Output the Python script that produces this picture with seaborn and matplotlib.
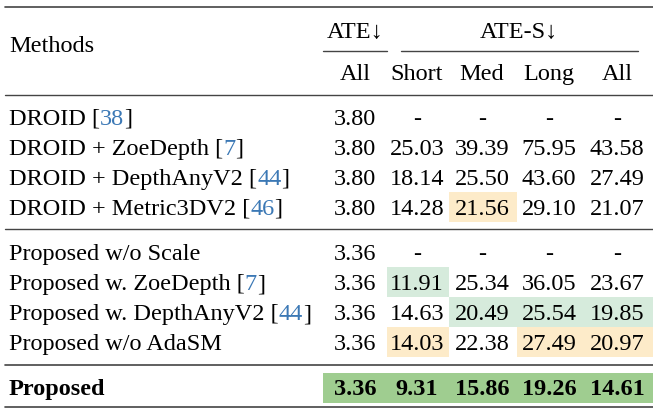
import matplotlib
matplotlib.use('Agg')
import matplotlib.pyplot as plt
import seaborn as sns

sns.set_theme(style="white")
plt.rcParams['font.family'] = ['Liberation Serif', 'DejaVu Serif']
plt.rcParams['text.color'] = 'black'

# table content
methods = [
    ("DROID", "38"), ("DROID + ZoeDepth", "7"), ("DROID + DepthAnyV2", "44"),
    ("DROID + Metric3DV2", "46"),
    ("Proposed w/o Scale", None), ("Proposed w. ZoeDepth", "7"),
    ("Proposed w. DepthAnyV2", "44"), ("Proposed w/o AdaSM", None),
]
values = [
    ["3.80", "-", "-", "-", "-"],
    ["3.80", "25.03", "39.39", "75.95", "43.58"],
    ["3.80", "18.14", "25.50", "43.60", "27.49"],
    ["3.80", "14.28", "21.56", "29.10", "21.07"],
    ["3.36", "-", "-", "-", "-"],
    ["3.36", "11.91", "25.34", "36.05", "23.67"],
    ["3.36", "14.63", "20.49", "25.54", "19.85"],
    ["3.36", "14.03", "22.38", "27.49", "20.97"],
]
best = ["3.36", "9.31", "15.86", "19.26", "14.61"]
subheads = ["All", "Short", "Med", "Long", "All"]
# (row, col, colour) highlighted cells
highlights = [(3, 2, 'orange'), (5, 1, 'green'), (6, 2, 'green'), (6, 3, 'green'),
              (6, 4, 'green'), (7, 1, 'orange'), (7, 3, 'orange'), (7, 4, 'orange')]

col_x = [355, 417, 482, 549, 617]
col_edges = [(323, 387), (387, 449), (449, 517), (517, 583), (583, 653)]
row_y = [117, 147, 177, 207, 252, 282, 312, 342]
fills = {'orange': '#fdebc9', 'green': '#d6ebdc'}
blue = '#3b78b5'
fs = 17.5
va = 'center_baseline'

fig = plt.figure(figsize=(6.53, 4.09), dpi=100)
ax = fig.add_axes([0, 0, 1, 1])
ax.set_xlim(0, 653)
ax.set_ylim(409, 0)
ax.axis('off')

# rules
for y, lw in [(7, 1.2), (95, 1.0), (229, 1.0), (365, 1.2), (407, 1.2)]:
    ax.plot([5, 653], [y, y], color='#444444', lw=lw)
ax.plot([323, 387], [51, 51], color='#444444', lw=1.0)
ax.plot([401, 638], [51, 51], color='#444444', lw=1.0)

# highlight cells
for r, c, k in highlights:
    x0, x1 = col_edges[c]
    ax.fill_between([x0, x1], row_y[r] - 15, row_y[r] + 15, color=fills[k], lw=0)
ax.fill_between([323, 653], 373, 403, color='#9fcd90', lw=0)

# header
ax.text(9, 44, "Methods", fontsize=fs, va=va, ha='left')
ax.text(355, 30, "ATE↓", fontsize=fs, va=va, ha='center')
ax.text(519, 30, "ATE-S↓", fontsize=fs, va=va, ha='center')
for x, s in zip(col_x, subheads):
    ax.text(x, 72, s, fontsize=fs, va=va, ha='center')

fig.canvas.draw()
renderer = fig.canvas.get_renderer()
inv = ax.transData.inverted()


def right_of(t):
    bb = t.get_window_extent(renderer)
    return inv.transform((bb.x1, bb.y0))[0]


for (name, ref), y, vals in zip(methods, row_y, values):
    t = ax.text(9, y, name + " [" if ref else name, fontsize=fs, va=va, ha='left')
    if ref:
        x = right_of(t)
        t2 = ax.text(x, y, ref, fontsize=fs, va=va, ha='left', color=blue)
        x = right_of(t2)
        ax.text(x, y, "]", fontsize=fs, va=va, ha='left')
    for cx, v in zip(col_x, vals):
        ax.text(cx, y, v, fontsize=fs, va=va, ha='center')

ax.text(9, 387, "Proposed", fontsize=fs, va=va, ha='left', weight='bold')
for cx, v in zip(col_x, best):
    ax.text(cx, 387, v, fontsize=fs, va=va, ha='center', weight='bold')

fig.savefig('out.png', dpi=100)
